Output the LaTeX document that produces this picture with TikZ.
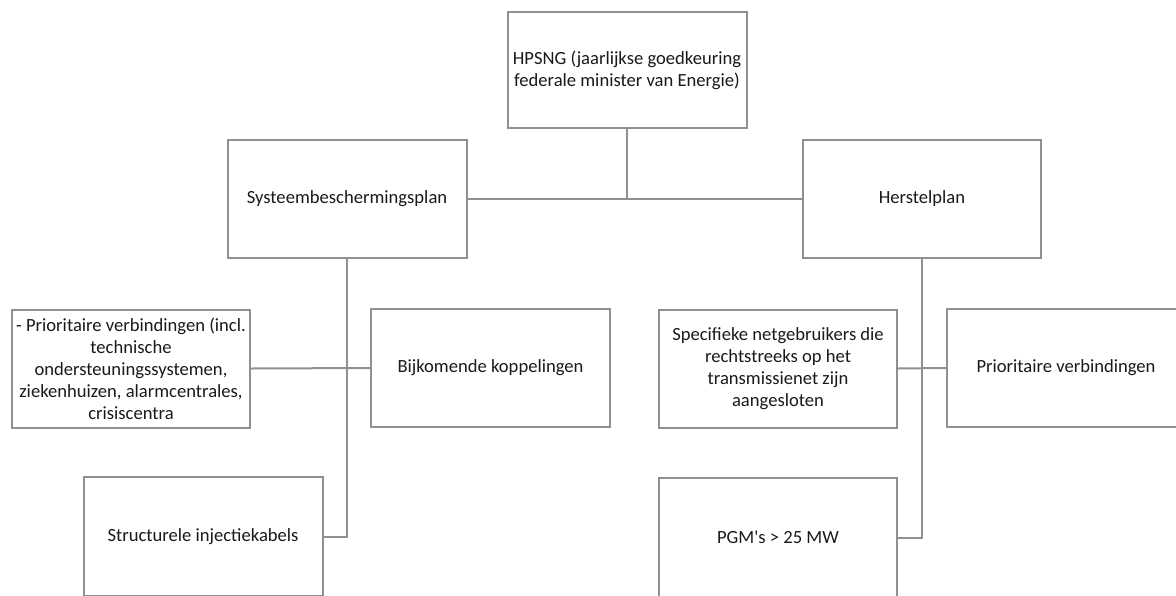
\documentclass[tikz,border=0pt]{standalone}
\usepackage{fontspec}
\setmainfont{Carlito}
\definecolor{boxgray}{HTML}{909090}
\definecolor{txt}{HTML}{1A1A1A}
\tikzset{
  box/.style={draw=boxgray, line width=2pt, fill=white, rectangle, align=center,
    inner sep=2pt, text=txt, font=\fontsize{18.6}{22}\selectfont},
  wide/.style={box, minimum width=239pt, minimum height=118pt},
  conn/.style={draw=boxgray, line width=2pt}
}
\begin{document}
\begin{tikzpicture}[x=1pt,y=-1pt]
\useasboundingbox (0,0) rectangle (1176,595);
\node[wide, minimum height=116pt] (top) at (627,70) {HPSNG (jaarlijkse goedkeuring\\federale minister van Energie)};
\node[wide] (sys) at (347,198.5) {Systeembeschermingsplan};
\node[wide, minimum width=238pt] (her) at (922,198.5) {Herstelplan};
\node[wide, minimum width=238pt] (pv) at (131,368.5) {- Prioritaire verbindingen (incl.\\technische\\ondersteuningssystemen,\\ziekenhuizen, alarmcentrales,\\crisiscentra};
\node[wide] (bij) at (490.5,368) {Bijkomende koppelingen};
\node[wide, minimum height=119pt] (str) at (203,536.5) {Structurele injectiekabels};
\node[wide, minimum width=238pt] (spec) at (778,368.5) {Specifieke netgebruikers die\\rechtstreeks op het\\transmissienet zijn\\aangesloten};
\node[wide, minimum width=238pt] (prio) at (1066,368) {Prioritaire verbindingen};
\node[wide, minimum width=238pt, minimum height=119pt] (pgm) at (778,537.5) {PGM\textquotesingle s > 25 MW};
\coordinate (j1) at (top.south |- sys.east);
\path[conn] (sys.east) -- (her.west);
\path[conn] (top.south) -- (j1);
\path[conn] (sys.south) -- (sys.south |- str.east) -- (str.east);
\path[conn] (pv.east) -- (bij.west);
\path[conn] (her.south) -- (her.south |- pgm.east) -- (pgm.east);
\path[conn] (spec.east) -- (prio.west);
\end{tikzpicture}
\end{document}
